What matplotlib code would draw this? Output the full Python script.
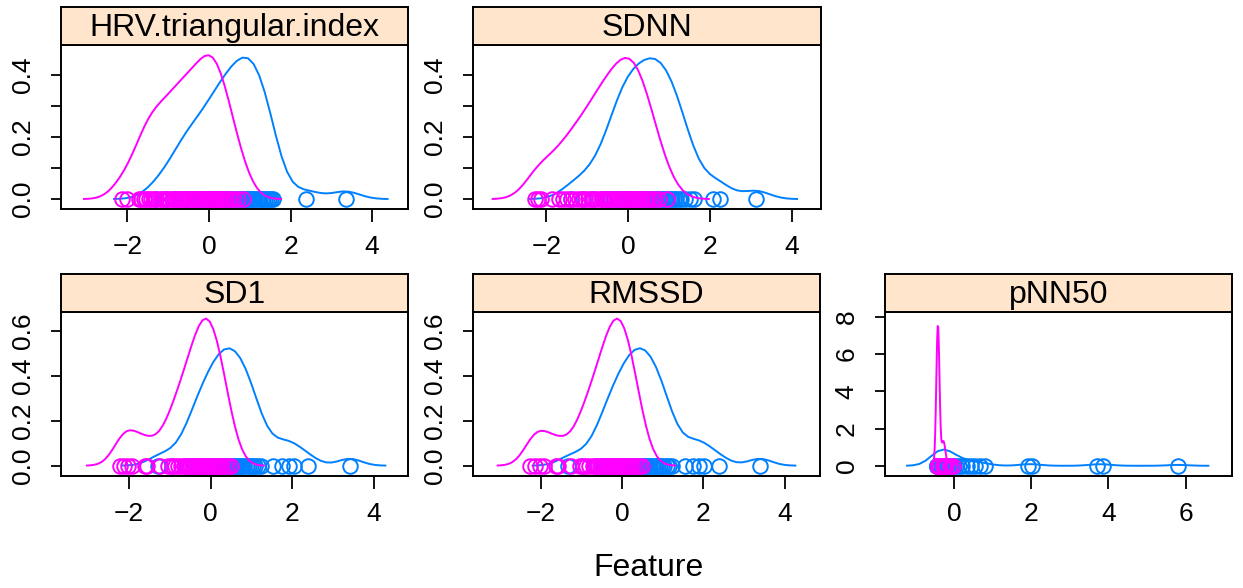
import numpy as np
import matplotlib
matplotlib.use("Agg")
import matplotlib.pyplot as plt

plt.rcParams['font.family'] = ['Liberation Sans', 'DejaVu Sans']

# standardised feature values per group (blue = group 1, pink = group 2)
hrv_blue = [-1.3, -1.05, -0.85,
            -0.7, -0.6, -0.55, -0.5, -0.4, -0.3,
            -0.2, -0.12, -0.05, 0.02, 0.09, 0.12, 0.16, 0.23,
            0.3, 0.35, 0.4, 0.45, 0.5, 0.55, 0.6, 0.65, 0.7, 0.74,
            0.78, 0.82, 0.86, 0.9, 0.94, 0.98, 1.02, 1.06, 1.1, 1.14, 1.2, 1.25,
            1.29, 1.33, 1.38, 1.43, 1.48, 1.53, 1.58,
            2.39, 3.35]
hrv_pink = [-2.14, -2.02,
            -1.72, -1.66, -1.6, -1.54, -1.48, -1.42, -1.36, -1.3,
            -1.2, -1.15, -1.1, -1.04, -0.98, -0.92, -0.86, -0.8, -0.76,
            -0.72, -0.67, -0.62, -0.57, -0.52, -0.47, -0.42, -0.38, -0.34, -0.3, -0.26,
            -0.2, -0.15, -0.1, -0.05, -0.03, 0.0, 0.04, 0.08, 0.1, 0.12, 0.16, 0.2, 0.24,
            0.28, 0.32, 0.36, 0.42, 0.48, 0.55, 0.62, 0.72, 0.84]

sdnn_blue = [-1.4, -1.1, -0.85,
             -0.65, -0.52, -0.42, -0.34, -0.27,
             -0.22, -0.17, -0.12, -0.07, -0.02, 0.03, 0.08, 0.13, 0.18, 0.23,
             0.28, 0.33, 0.38, 0.43, 0.48, 0.53, 0.58, 0.63, 0.65, 0.68, 0.73,
             0.78, 0.83, 0.88, 0.93, 0.98, 1.03, 1.08, 1.13, 1.18, 1.23,
             1.3, 1.4, 1.5, 1.6,
             2.08, 2.24, 3.12]
sdnn_pink = [-2.28, -2.2, -2.12, -1.85,
             -1.7, -1.6, -1.5, -1.4, -1.3,
             -1.2, -1.13, -1.06, -0.99, -0.92, -0.85, -0.78,
             -0.72, -0.65, -0.58, -0.55, -0.51, -0.47, -0.44, -0.37, -0.3, -0.25,
             -0.2, -0.15, -0.1, -0.05, -0.02, 0.0, 0.05, 0.08, 0.1, 0.15, 0.2, 0.25,
             0.3, 0.35, 0.4, 0.45, 0.5, 0.57, 0.65, 0.75, 0.94]

sd1_blue = [-1.3, -0.95,
            -0.6, -0.5, -0.42, -0.35, -0.3,
            -0.22, -0.16, -0.1, -0.05, 0.0, 0.05, 0.1, 0.14, 0.18, 0.22,
            0.26, 0.3, 0.34, 0.38, 0.42, 0.46, 0.5, 0.54, 0.58, 0.62, 0.66, 0.7, 0.74,
            0.78, 0.83, 0.88, 0.93, 0.98, 1.04, 1.1, 1.17, 1.24,
            1.54, 1.75, 1.91, 2.05, 2.38, 3.41]
sd1_pink = [-2.23, -2.12, -2.02, -1.92,
            -1.62, -1.57,
            -1.25, -1.04, -0.96, -0.88, -0.8,
            -0.72, -0.66, -0.6, -0.55, -0.5, -0.45, -0.4, -0.36, -0.32, -0.28,
            -0.24, -0.21, -0.18, -0.15, -0.12, -0.09, -0.06, -0.03, 0.0, 0.06, 0.09,
            0.12, 0.15, 0.19, 0.23,
            0.28, 0.34, 0.42, 0.5]

rmssd_blue = [-1.32, -0.95,
              -0.6, -0.5, -0.42, -0.35, -0.3,
              -0.22, -0.16, -0.1, -0.05, 0.0, 0.05, 0.1, 0.14, 0.18, 0.22,
              0.26, 0.3, 0.34, 0.38, 0.42, 0.46, 0.5, 0.54, 0.58, 0.62, 0.66, 0.7, 0.74,
              0.78, 0.83, 0.88, 0.93, 0.98, 1.04, 1.1, 1.17, 1.24,
              1.54, 1.75, 1.9, 2.03, 2.38, 3.39]
rmssd_pink = [-2.25, -2.13, -2.02, -1.92,
              -1.62, -1.57,
              -1.25, -1.04, -0.96, -0.88, -0.8,
              -0.72, -0.66, -0.6, -0.55, -0.5, -0.45, -0.4, -0.36, -0.32, -0.28,
              -0.24, -0.21, -0.18, -0.15, -0.12, -0.09, -0.06, -0.03, 0.0, 0.06, 0.09,
              0.12, 0.15, 0.19, 0.23,
              0.28, 0.34, 0.42, 0.5]

pnn50_blue = [-0.43, -0.43, -0.43, -0.43, -0.43, -0.43, -0.42, -0.4, -0.38, -0.35, -0.32, -0.3,
              -0.27, -0.25, -0.22, -0.2, -0.17, -0.15, -0.1, -0.05, 0.0, 0.05, 0.12, 0.2,
              0.33, 0.45, 0.55, 0.67, 0.8, 1.92, 2.02, 3.7, 3.87, 5.8]
pnn50_pink = [-0.42] * 29 + [-0.38, -0.3, -0.29, -0.28, -0.27, -0.26, -0.22, -0.1, -0.02]

panels = ["HRV.triangular.index", "SDNN", "SD1", "RMSSD", "pNN50"]
groups = {
    "HRV.triangular.index": (hrv_blue, hrv_pink),
    "SDNN": (sdnn_blue, sdnn_pink),
    "SD1": (sd1_blue, sd1_pink),
    "RMSSD": (rmssd_blue, rmssd_pink),
    "pNN50": (pnn50_blue, pnn50_pink),
}

BLUE = "#0080ff"
PINK = "#ff00ff"
STRIP = "#ffe5cc"


def kde(v, n=50):
    # same recipe as R density(): gaussian kernel, bw.nrd0, cut = 3
    v = np.asarray(v, float)
    sd = v.std(ddof=1)
    q75, q25 = np.percentile(v, [75, 25])
    lo = min(sd, (q75 - q25) / 1.34)
    if lo == 0:
        lo = sd
    bw = 0.9 * lo * len(v) ** -0.2
    xs = np.linspace(v.min() - 3 * bw, v.max() + 3 * bw, n)
    ys = np.exp(-0.5 * ((xs[:, None] - v[None, :]) / bw) ** 2).sum(1)
    ys /= len(v) * bw * np.sqrt(2 * np.pi)
    return xs, ys


W, H = 1243, 588
fig = plt.figure(figsize=(W / 100, H / 100), dpi=100)

# pixel boxes: (left, right, strip top, panel top, panel bottom)
boxes = {
    "HRV.triangular.index": (61, 408, 7, 45, 209),
    "SDNN": (473, 821, 7, 45, 209),
    "SD1": (61, 408, 274, 312, 476),
    "RMSSD": (473, 820, 274, 312, 476),
    "pNN50": (885, 1232, 274, 312, 476),
}
xlims = {
    "HRV.triangular.index": (-3.63, 4.88),
    "SDNN": (-3.79, 4.71),
    "SD1": (-3.67, 4.84),
    "RMSSD": (-3.66, 4.87),
    "pNN50": (-1.79, 7.2),
}
ylims = {
    "HRV.triangular.index": (-0.032, 0.497),
    "SDNN": (-0.032, 0.497),
    "SD1": (-0.046, 0.683),
    "RMSSD": (-0.046, 0.683),
    "pNN50": (-0.55, 8.26),
}
xticks = {"pNN50": [0, 2, 4, 6]}
yticks = {
    "HRV.triangular.index": ([0, 0.1, 0.2, 0.3, 0.4], ["0.0", "", "0.2", "", "0.4"]),
    "SDNN": ([0, 0.1, 0.2, 0.3, 0.4], ["0.0", "", "0.2", "", "0.4"]),
    "SD1": ([0, 0.2, 0.4, 0.6], ["0.0", "0.2", "0.4", "0.6"]),
    "RMSSD": ([0, 0.2, 0.4, 0.6], ["0.0", "0.2", "0.4", "0.6"]),
    "pNN50": ([0, 2, 4, 6, 8], ["0", "2", "4", "6", "8"]),
}

for name in panels:
    l, r, st, pt, pb = boxes[name]
    ax = fig.add_axes([l / W, 1 - pb / H, (r - l) / W, (pb - pt) / H])
    sx = fig.add_axes([l / W, 1 - pt / H, (r - l) / W, (pt - st) / H])

    for vals, col in zip(groups[name], [BLUE, PINK]):
        xs, ys = kde(vals)
        ax.plot(xs, ys, color=col, lw=1.4)
        ax.plot(vals, np.zeros(len(vals)), 'o', mfc='none', mec=col, ms=10.5, mew=1.4)

    ax.set_xlim(*xlims[name])
    ax.set_ylim(*ylims[name])
    xt = xticks.get(name, [-2, 0, 2, 4])
    ax.set_xticks(xt)
    ax.set_xticklabels([f"{t}".replace("-", "\u2212") for t in xt])
    yt, yl = yticks[name]
    ax.set_yticks(yt)
    ax.set_yticklabels(yl)
    ax.tick_params(axis='x', length=9, width=1.3, pad=10, labelsize=19)
    ax.tick_params(axis='y', length=7, width=1.3, pad=12, labelsize=19, labelrotation=90)
    for lab in ax.get_yticklabels():
        lab.set_va('center')
    for s in ax.spines.values():
        s.set_linewidth(1.4)

    sx.set_facecolor(STRIP)
    sx.set_xticks([])
    sx.set_yticks([])
    for s in sx.spines.values():
        s.set_linewidth(1.4)
    sx.text(0.5, 0.45, name, ha='center', va='center', fontsize=23, transform=sx.transAxes)

fig.text(648 / W, 1 - 568 / H, "Feature", ha='center', va='center', fontsize=23)

fig.savefig("out.png", dpi=100)
